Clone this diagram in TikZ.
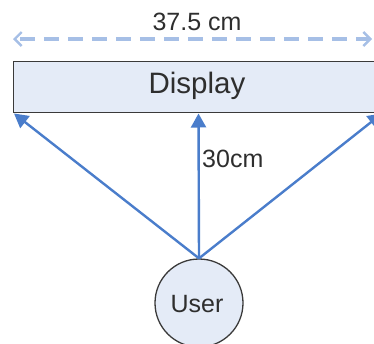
\documentclass[tikz,border=0pt]{standalone}
\usepackage{fontspec}
\setmainfont{Liberation Sans}
\usetikzlibrary{arrows.meta}
\definecolor{boxfill}{HTML}{E4EBF7}
\definecolor{boxline}{HTML}{3A3A3A}
\definecolor{arrowblue}{HTML}{4A7DCB}
\definecolor{dashblue}{HTML}{A6BFE6}
\definecolor{txt}{HTML}{2E2E2E}
\tikzset{
  shapebox/.style={draw=boxline, fill=boxfill, line width=1.3pt, text=txt},
  viewarrow/.style={draw=arrowblue, line width=2.4pt, -{Triangle[length=14pt,width=15pt]}},
  dimline/.style={draw=dashblue, line width=3.2pt, dash pattern=on 15pt off 9pt, dash phase=-4pt,
    {Straight Barb[length=7pt,width=14pt,line width=2.4pt]}-{Straight Barb[length=7pt,width=14pt,line width=2.4pt]}},
  lbl/.style={text=txt, font=\fontsize{25}{30}\selectfont, inner sep=0pt}
}
\begin{document}
\begin{tikzpicture}[x=1pt,y=-1pt]
\useasboundingbox (0,0) rectangle (374,343);
\clip (0,0) rectangle (374,343);
\node[shapebox, minimum width=370pt, minimum height=51pt, inner sep=0pt, anchor=north west,
  font=\fontsize{29.5}{34}\selectfont] (display) at (13,61) {};
\node[text=txt, font=\fontsize{29.5}{34}\selectfont, inner sep=0pt] (dtext) at (197,86) {Display};
\node[shapebox, circle, minimum size=88pt, inner sep=0pt] (user) at (199,303) {};
\node[lbl] (utext) at (197,304) {User};
\coordinate (tl) at (14,113.5);
\coordinate (tm) at (198.5,113.5);
\coordinate (tr) at (382,113.5);
\draw[viewarrow] (user.north) -- (tl);
\draw[viewarrow] (user.north) -- (tm);
\draw[viewarrow] (user.north) -- (tr);
\node[lbl, anchor=west] (h) at (202,159) {30cm};
\coordinate (dl) at (13,39);
\coordinate (dr) at (372,39);
\draw[dimline] (dl) -- (dr);
\node[lbl] (w) at (197,22) {37.5 cm};
\end{tikzpicture}
\end{document}
